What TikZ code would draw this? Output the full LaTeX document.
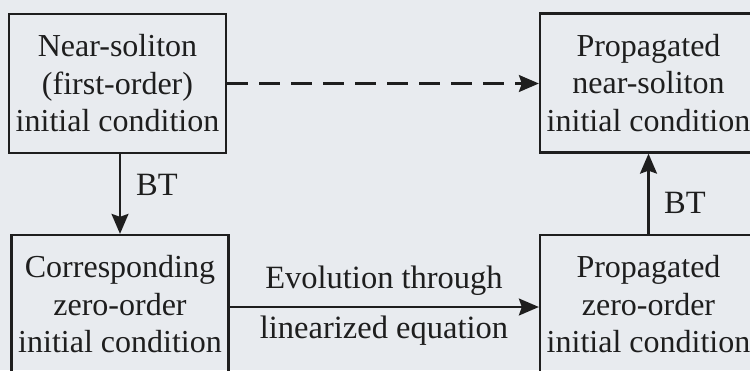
\documentclass[tikz,border=0pt]{standalone}
\usepackage{fontspec}
\setmainfont{Liberation Serif}
\usetikzlibrary{arrows.meta}
\definecolor{bg}{RGB}{232,235,239}
\definecolor{ink}{RGB}{30,30,30}
\tikzset{
  box/.style={draw=ink, line width=2.3pt, minimum width=217pt, minimum height=139pt,
    inner sep=0pt, align=center, text=ink, font=\fontsize{32}{37.5}\selectfont},
  lbl/.style={text=ink, font=\fontsize{32.5}{37.5}\selectfont, inner sep=0pt, anchor=base},
  arr/.style={draw=ink, line width=2.1pt, -{Stealth[length=20pt,width=17pt,inset=3pt]}},
  darr/.style={arr, dash pattern=on 21pt off 11pt}
}
\begin{document}
\begin{tikzpicture}[x=1pt,y=-1pt]
\fill[bg] (0,0) rectangle (750,370);
\useasboundingbox (0,0) rectangle (750,370);
\node[box] (b1) at (117.5,83.5) {Near-soliton\\(first-order)\\initial condition};
\node[box] (b2) at (648.5,83) {Propagated\\near-soliton\\initial condition};
\node[box] (b3) at (120,304.5) {Corresponding\\zero-order\\initial condition};
\node[box] (b4) at (648.5,304.5) {Propagated\\zero-order\\initial condition};
\draw[arr] (b3.north |- b1.south) -- (b3.north);
\draw[arr] (b4.north) -- (b2.south);
\draw[darr] (b1.east) -- (b1.east -| b2.west);
\draw[arr] ([yshift=-2.5pt]b3.east) -- ([yshift=-2.5pt]b3.east -| b4.west);
\node[lbl] (bt1) at (157,195) {BT};
\node[lbl] (bt2) at (685,213) {BT};
\node[lbl] (ev1) at (384,288) {Evolution through};
\node[lbl] (ev2) at (384,338) {linearized equation};
\end{tikzpicture}
\end{document}
